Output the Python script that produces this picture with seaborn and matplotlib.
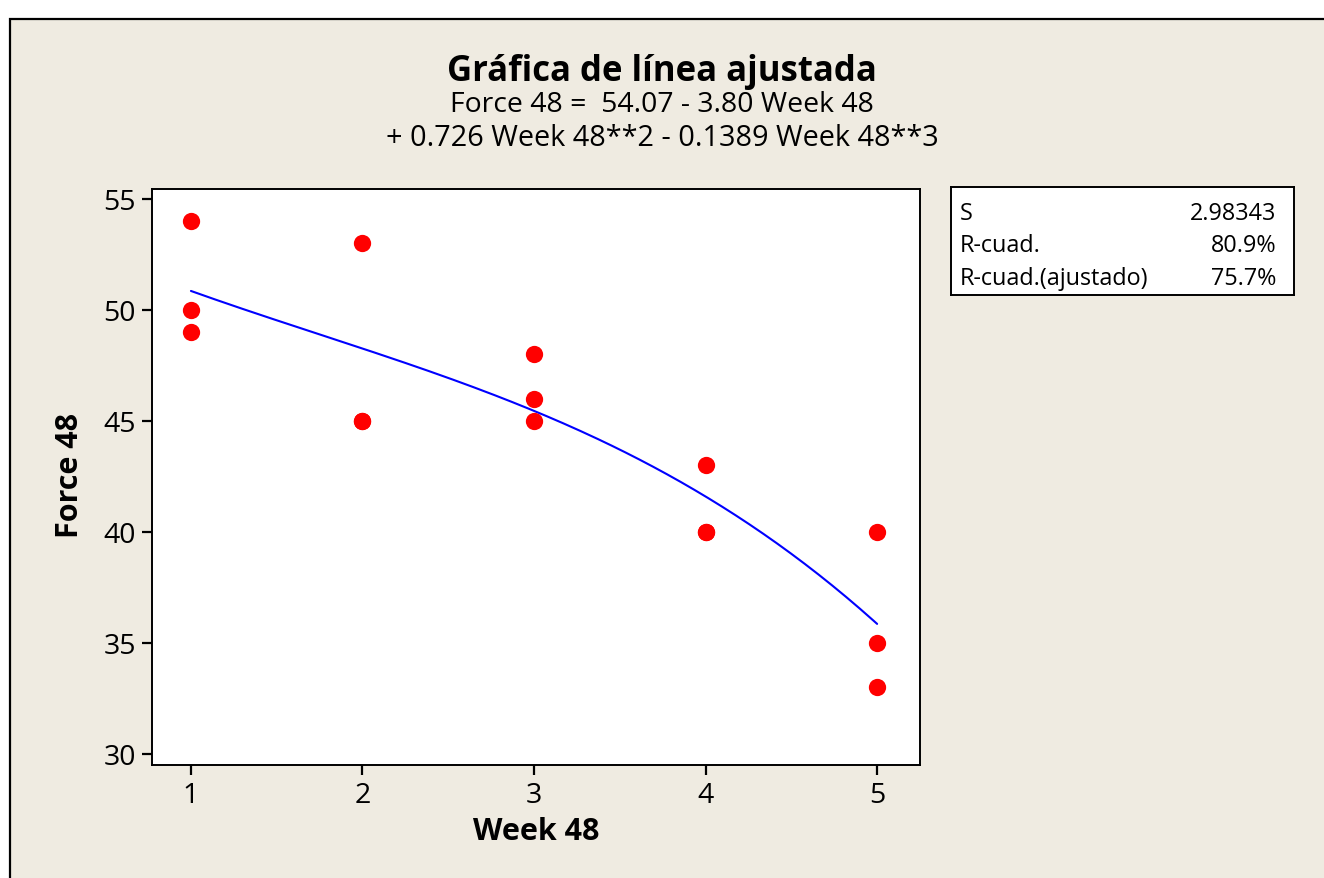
import numpy as np
import pandas as pd
import seaborn as sns
import matplotlib
matplotlib.use("Agg")
import matplotlib.pyplot as plt
from matplotlib.patches import Rectangle

# Observations
week = [1, 1, 1, 2, 2, 2, 3, 3, 3, 4, 4, 4, 5, 5, 5]
force = [54, 50, 49, 53, 45, 45, 48, 46, 45, 43, 40, 40, 40, 35, 33]

# Cubic regression coefficients (constant, linear, quadratic, cubic)
coefs = [54.07, -3.80, 0.726, -0.1389]

# Model summary
stat_names = ["S", "R-cuad.", "R-cuad.(ajustado)"]
stat_values = ["2.98343", "80.9%", "75.7%"]

xticks = [1, 2, 3, 4, 5]
yticks = [30, 35, 40, 45, 50, 55]

sns.set_style("white")
plt.rcParams["font.family"] = ["Open Sans", "DejaVu Sans"]
plt.rcParams["text.color"] = "black"
plt.rcParams["axes.labelcolor"] = "black"

BG = "#EFEBE1"
W, H = 1324, 879
fig = plt.figure(figsize=(W / 100, H / 100), dpi=100)
fig.patch.set_facecolor("white")

# Outer chart panel
fig.patches.append(Rectangle((10 / W, -0.05), 1.1, 1 - 20 / H + 0.05,
                             transform=fig.transFigure, facecolor=BG,
                             edgecolor="black", linewidth=1.6, zorder=-5))

ax = fig.add_axes([152 / W, 1 - 766 / H, (920 - 152) / W, (766 - 190) / H])
ax.set_facecolor("white")

df = pd.DataFrame({"Week 48": week, "Force 48": force})
sns.scatterplot(data=df, x="Week 48", y="Force 48", ax=ax, color="#FF0000",
                s=155, linewidth=0, zorder=3)

xs = np.linspace(min(week), max(week), 200)
fit = sum(c * xs ** i for i, c in enumerate(coefs))
sns.lineplot(x=xs, y=fit, ax=ax, color="#0000FF", linewidth=1.5, zorder=2)

ax.set_xlim(0.773, 5.25)
ax.set_ylim(29.5, 55.45)
ax.set_xticks(xticks)
ax.set_yticks(yticks)
ax.tick_params(axis="both", direction="out", length=7, width=1.6,
               labelsize=20.5, colors="black", pad=4.5)
ax.tick_params(left=True, bottom=True)
for sp in ax.spines.values():
    sp.set_visible(True)
    sp.set_color("black")
    sp.set_linewidth(1.4)

ax.set_xlabel("Week 48", fontsize=22, fontweight="bold")
ax.set_ylabel("Force 48", fontsize=22, fontweight="bold")
ax.xaxis.set_label_coords(0.5, -(817 - 766) / 576)
ax.yaxis.set_label_coords(-(152 - 85) / 768, 0.505)

# Title block
fig.text(0.5, 1 - 72 / H, "Gráfica de línea ajustada", ha="center", va="center",
         fontsize=25, fontweight="bold")
fig.text(0.5, 1 - 105 / H, "Force 48 =  54.07 - 3.80 Week 48", ha="center",
         va="center", fontsize=20.4)
fig.text(0.5, 1 - 139 / H, "+ 0.726 Week 48**2 - 0.1389 Week 48**3",
         ha="center", va="center", fontsize=20.8)

# Summary statistics box
bx = fig.add_axes([951 / W, 1 - 296 / H, (1294 - 951) / W, (296 - 188) / H])
bx.set_facecolor("white")
bx.set_xticks([])
bx.set_yticks([])
bx.set_xlim(0, 1)
bx.set_ylim(0, 1)
for sp in bx.spines.values():
    sp.set_visible(True)
    sp.set_color("black")
    sp.set_linewidth(1.4)
row_y = [214, 246, 279]
for name, val, ry in zip(stat_names, stat_values, row_y):
    yy = 1 - (ry - 188) / (296 - 188)
    bx.text(9 / 343, yy, name, ha="left", va="center", fontsize=16.8)
    bx.text(1 - 18 / 343, yy, val, ha="right", va="center", fontsize=16.8)

fig.savefig("out.png", dpi=100, facecolor=fig.get_facecolor())
